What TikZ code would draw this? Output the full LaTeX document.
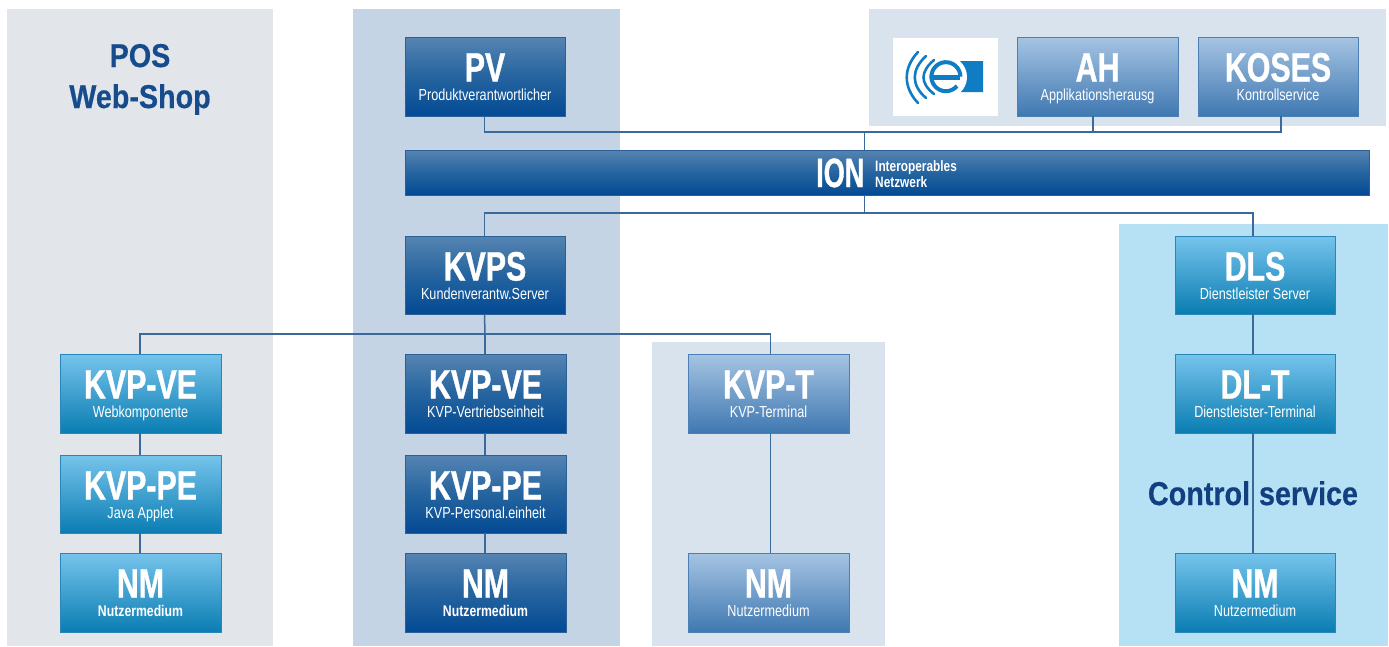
\documentclass[tikz,border=0pt]{standalone}
\usepackage{fontspec}
\setmainfont{Liberation Sans}
\newfontfamily\cf[FakeStretch=0.79]{Liberation Sans}
\newfontfamily\cft[FakeStretch=0.74,BoldFeatures={FakeBold=0.9}]{Liberation Sans}
\newfontfamily\cfn[FakeStretch=0.66,BoldFeatures={FakeBold=0.9}]{Liberation Sans}
\newfontfamily\cfw[FakeStretch=0.87,BoldFeatures={FakeBold=0.5}]{Liberation Sans}
\usetikzlibrary{calc}
\definecolor{lnk}{HTML}{3A6A9C}
\definecolor{panA}{HTML}{E2E6EB}
\definecolor{panB}{HTML}{C4D4E4}
\definecolor{panC}{HTML}{D9E3EE}
\definecolor{panD}{HTML}{B6E1F5}
\definecolor{navy}{HTML}{164B8C}
\definecolor{navyb}{HTML}{123F7F}
\definecolor{logoblue}{HTML}{0F7CC4}
\tikzset{
  boxbase/.style={rectangle,inner sep=0pt,outer sep=0pt,line width=1pt},
  darkbox/.style={boxbase,draw=bdark,top color=topdark,bottom color=botdark,middle color=middark},
  cyanbox/.style={boxbase,draw=bcyan,top color=topcyan,middle color=midcyan,bottom color=botcyan},
  lightbox/.style={boxbase,draw=blight,top color=toplight,middle color=midlight,bottom color=botlight},
  link/.style={draw=lnk,line width=1.5pt},
  ttl/.style={anchor=base,text=white,inner sep=0pt,font=\cft\bfseries\fontsize{41}{41}\selectfont},
  sbt/.style={anchor=base,text=white,inner sep=0pt,font=\cf\fontsize{16}{16}\selectfont},
  sbtb/.style={anchor=base,text=white,inner sep=0pt,font=\cf\bfseries\fontsize{15.5}{16}\selectfont},
  ionsub/.style={anchor=base west,text=white,inner sep=0pt,font=\cf\bfseries\fontsize{15}{15}\selectfont},
  heading/.style={anchor=base,text=navy,inner sep=0pt,font=\cfw\bfseries\fontsize{33}{33}\selectfont},
  logoarc/.style={draw=logoblue,line width=2.6pt,line cap=round},
}
\definecolor{topdark}{HTML}{5684B2}
\definecolor{middark}{HTML}{25649F}
\definecolor{botdark}{HTML}{034A94}
\definecolor{bdark}{HTML}{2C5F95}
\definecolor{topcyan}{HTML}{76C4EC}
\definecolor{midcyan}{HTML}{0C94D5}
\definecolor{botcyan}{HTML}{0A7DB2}
\definecolor{bcyan}{HTML}{2A85B8}
\definecolor{toplight}{HTML}{A6C4E3}
\definecolor{midlight}{HTML}{7199C8}
\definecolor{botlight}{HTML}{3F78B1}
\definecolor{blight}{HTML}{4C7FB3}
% name x1 y1 x2 y2 style title subtitle substyle
\newcommand{\bx}[9]{%
  \pgfmathsetmacro{\bw}{#4-#2}\pgfmathsetmacro{\bh}{#5-#3}%
  \pgfmathsetmacro{\cxx}{(#2+#4)/2}\pgfmathsetmacro{\cyy}{(#3+#5)/2}%
  \node[#6,minimum width=\bw pt,minimum height=\bh pt] (#1) at (\cxx,\cyy) {};
  \node[ttl] (#1-t) at (\cxx,#3+44.5) {#7};
  \node[#9] (#1-s) at (\cxx,#3+63) {#8};
}
\begin{document}
\begin{tikzpicture}[x=1pt,y=-1pt]
\useasboundingbox (0,0) rectangle (1389,646);
\fill[white] (0,0) rectangle (1389,646);
% panels
\fill[panA] (7,9) rectangle (273,646);
\fill[panB] (353,9) rectangle (620,646);
\fill[panC] (869,9) rectangle (1386,126);
\fill[panC] (652,342) rectangle (885,646);
\fill[panD] (1119,224) rectangle (1388,646);
\node[heading] (pos) at (140,67) {POS};
\node[heading] (web) at (140,108) {Web-Shop};
% logo
\fill[white] (893,38) rectangle (998,116);
\fill[logoblue] (953,61) -- (983,61) -- (983,92) -- (958,92) -- (953,86) -- cycle;
\fill[white] (946,77) circle (21);
\draw[logoarc] (918,52) .. controls (903,68) and (903,87) .. (918,103);
\draw[logoarc] (926,56) .. controls (911,70) and (911,85) .. (926,98);
\draw[logoarc] (934,60) .. controls (920,72) and (920,83) .. (934,94);
\draw[draw=logoblue,line width=4pt] (957,86) arc[start angle=40,end angle=360,radius=14.5];
\fill[logoblue] (931,74.5) rectangle (960,79.5);
% boxes
\bx{pv}{405}{37}{565}{116}{darkbox}{PV}{Produktverantwortlicher}{sbt}
\bx{ah}{1017}{37}{1178}{116}{lightbox}{AH}{Applikationsherausg}{sbt}
\bx{koses}{1198}{37}{1358}{116}{lightbox}{KOSES}{Kontrollservice}{sbt}
\node[darkbox,minimum width=964pt,minimum height=45pt] (ion) at (887,172.5) {};
\node[ttl,anchor=base west,font=\cfn\bfseries\fontsize{41}{41}\selectfont] (ion-t) at (816,187) {ION};
\node[ionsub] (ion-a) at (875,171) {Interoperables};
\node[ionsub] (ion-b) at (875,187) {Netzwerk};
\bx{kvps}{405}{236}{565}{314}{darkbox}{KVPS}{Kundenverantw.Server}{sbt}
\bx{dls}{1175}{236}{1335}{314}{cyanbox}{DLS}{Dienstleister Server}{sbt}
\bx{web1}{60}{354}{221}{433}{cyanbox}{KVP-VE}{Webkomponente}{sbt}
\bx{web2}{60}{455}{221}{533}{cyanbox}{KVP-PE}{Java Applet}{sbt}
\bx{web3}{60}{553}{221}{632}{cyanbox}{NM}{Nutzermedium}{sbtb}
\bx{mid1}{405}{354}{566}{433}{darkbox}{KVP-VE}{KVP-Vertriebseinheit}{sbt}
\bx{mid2}{405}{455}{566}{533}{darkbox}{KVP-PE}{KVP-Personal.einheit}{sbt}
\bx{mid3}{405}{553}{566}{632}{darkbox}{NM}{Nutzermedium}{sbtb}
\bx{term1}{688}{354}{849}{433}{lightbox}{KVP-T}{KVP-Terminal}{sbt}
\bx{term2}{688}{553}{849}{632}{lightbox}{NM}{Nutzermedium}{sbt}
\bx{dl1}{1175}{354}{1335}{433}{cyanbox}{DL-T}{Dienstleister-Terminal}{sbt}
\bx{dl2}{1175}{553}{1335}{632}{cyanbox}{NM}{Nutzermedium}{sbt}
% junctions
\coordinate (top) at (864.5,132);
\coordinate (low) at (864.5,213);
\coordinate (bus) at (485,334);
% connectors
\draw[link] ([xshift=-0.5pt]pv.south) |- (top);
\draw[link] ([xshift=-4.5pt]ah.south) |- (top);
\draw[link] ([xshift=3pt]koses.south) |- (top);
\draw[link] (top) -- (top |- ion.north);
\draw[link] (top |- ion.south) -- (low);
\draw[link] ([xshift=-0.5pt]kvps.north) |- (low);
\draw[link] ([xshift=-2pt]dls.north) |- (low);
\draw[link] ([xshift=-0.5pt]kvps.south) -- (bus);
\draw[link] ([xshift=-0.5pt]web1.north) |- (bus);
\draw[link] ([xshift=-0.5pt]mid1.north) -- (bus);
\draw[link] ([xshift=2pt]term1.north) |- (bus);
\draw[link] ([xshift=-0.5pt]web1.south) -- ([xshift=-0.5pt]web2.north);
\draw[link] ([xshift=-0.5pt]web2.south) -- ([xshift=-0.5pt]web3.north);
\draw[link] ([xshift=-0.5pt]mid1.south) -- ([xshift=-0.5pt]mid2.north);
\draw[link] ([xshift=-0.5pt]mid2.south) -- ([xshift=-0.5pt]mid3.north);
\draw[link] ([xshift=2pt]term1.south) -- ([xshift=2pt]term2.north);
\draw[link] ([xshift=-2pt]dls.south) -- ([xshift=-2pt]dl1.north);
\draw[link] ([xshift=-2pt]dl1.south) -- ([xshift=-2pt]dl2.north);
\node[heading,text=navyb] (ctrl) at (1253,505) {Control\hspace{1pt} service};
\end{tikzpicture}
\end{document}
